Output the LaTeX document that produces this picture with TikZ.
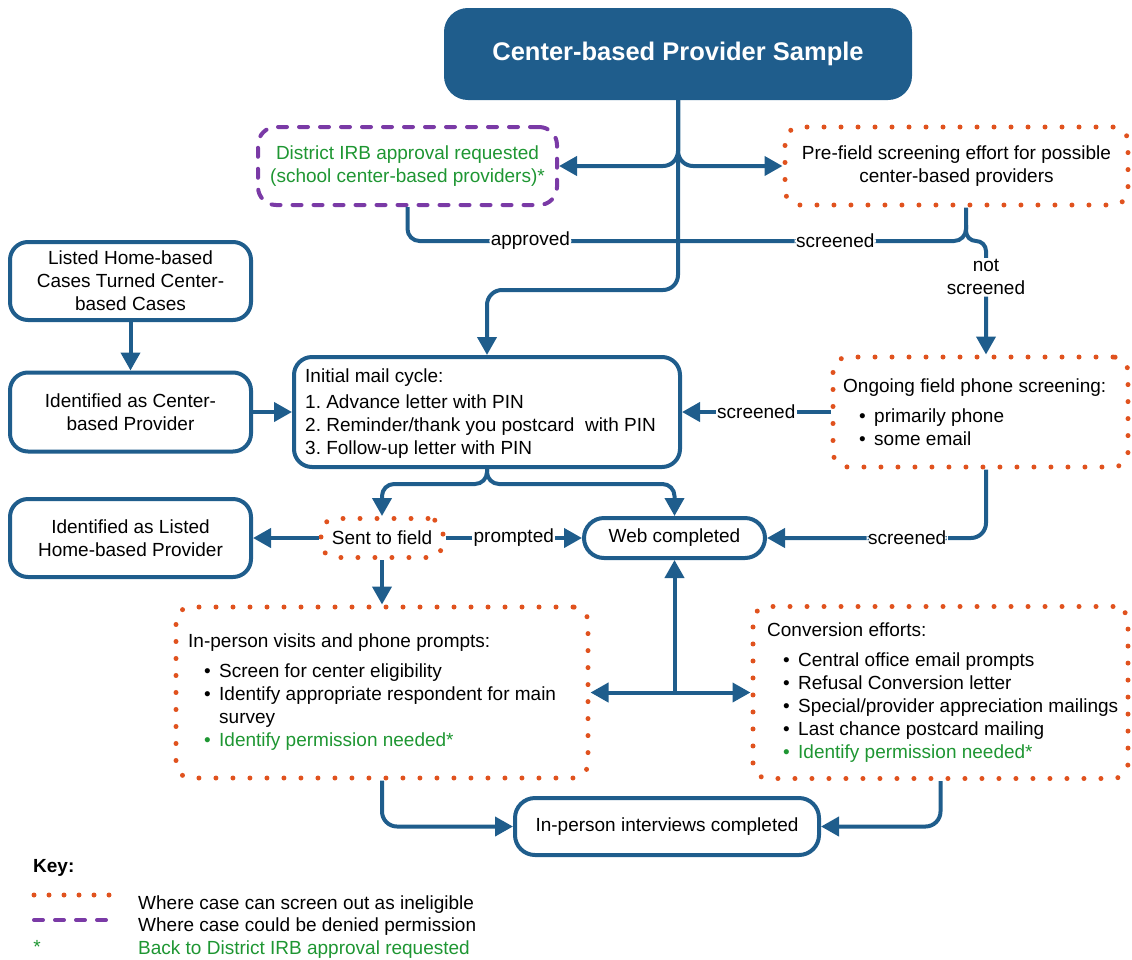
\documentclass[tikz,border=0pt]{standalone}
\usepackage{fontspec}
\setmainfont{Liberation Sans}
\usetikzlibrary{arrows.meta,calc}
\definecolor{bl}{RGB}{31,93,140}
\definecolor{orng}{RGB}{224,82,30}
\definecolor{purp}{RGB}{122,58,166}
\definecolor{grn}{RGB}{30,150,50}
\frenchspacing
\newcommand{\bul}[1]{\hspace*{16pt}\makebox[15pt][l]{\textbullet}#1}
\newcommand{\gbul}[1]{\hspace*{16pt}\makebox[15pt][l]{\color{grn}\textbullet}{\color{grn}#1}}
\begin{document}
\begin{tikzpicture}[x=1pt,y=-1pt,
  font=\fontsize{19}{23}\selectfont\frenchspacing,
  bbox/.style={draw=bl, line width=4pt, rounded corners=18pt, fill=white, align=center, inner sep=0pt},
  dotbox/.style={draw=orng, line width=5pt, dash pattern=on 0pt off 17pt, line cap=round, rounded corners=15pt, inner sep=0pt},
  dashbox/.style={draw=purp, line width=4pt, dash pattern=on 9pt off 12pt, line cap=round, rounded corners=18pt, inner sep=0pt},
  conn/.style={draw=bl, line width=4pt},
  arr/.style={conn, -{Triangle[length=18pt,width=19pt]}},
  lab/.style={fill=white, inner sep=1.5pt},
  txt/.style={anchor=west, align=left, inner sep=0pt},
]
\useasboundingbox (0,0) rectangle (1132,959);

% boxes
\node[bbox, fill=bl, text=white, font=\fontsize{25.5}{30}\selectfont\bfseries, minimum width=464pt, minimum height=88pt, rounded corners=22pt] (title) at (678,54) {Center-based Provider Sample};
\node[dashbox, minimum width=299pt, minimum height=78pt, text=grn, align=center] (irb) at (407.5,166) {District IRB approval requested\\(school center-based providers)*};
\node[dotbox, minimum width=343pt, minimum height=78pt, align=center] (pre) at (956.5,166) {Pre-field screening effort for possible\\center-based providers};
\node[bbox, minimum width=241pt, minimum height=78pt] (listed) at (130.5,281) {Listed Home-based\\Cases Turned Center-\\based Cases};
\node[bbox, minimum width=241pt, minimum height=79pt] (idc) at (130.5,412) {Identified as Center-\\based Provider};
\node[bbox, minimum width=386pt, minimum height=110pt] (mail) at (487,412) {};
\node[txt] (mailtxt) at ($(mail.west)+(13,2)$) {Initial mail cycle:\\[3pt]1. Advance letter with PIN\\2. Reminder/thank you postcard\ \ with PIN\\3. Follow-up letter with PIN};
\node[dotbox, minimum width=295pt, minimum height=110pt] (ong) at (980.5,412) {};
\node[txt] (ongtxt) at ($(ong.west)+(12.5,0)$) {Ongoing field phone screening:\\[7pt]\bul{primarily phone}\\\bul{some email}};
\node[bbox, minimum width=241pt, minimum height=78pt] (idl) at (130.5,538) {Identified as Listed\\Home-based Provider};
\node[dotbox, minimum width=122pt, minimum height=39pt] (sent) at (382,538) {Sent to field};
\node[bbox, minimum width=181pt, minimum height=40pt, rounded corners=20pt] (web) at (674.5,538) {Web completed};
\node[dotbox, minimum width=412pt, minimum height=171pt] (inp) at (382,692.5) {};
\node[txt] (inptxt) at ($(inp.west)+(14.5,0)$) {In-person visits and phone prompts:\\[7pt]\bul{Screen for center eligibility}\\\bul{Identify appropriate respondent for main}\\\hspace*{31pt}survey\\\gbul{Identify permission needed*}};
\node[dotbox, minimum width=375pt, minimum height=172pt] (conv) at (940.5,692.5) {};
\node[txt] (convtxt) at ($(conv.west)+(16.5,0)$) {Conversion efforts:\\[7pt]\bul{Central office email prompts}\\\bul{Refusal Conversion letter}\\\bul{Special/provider appreciation mailings}\\\bul{Last chance postcard mailing}\\\gbul{Identify permission needed*}};
\node[bbox, minimum width=304pt, minimum height=57pt, rounded corners=20pt] (ipc) at (667,826.5) {In-person interviews completed};

% coordinates
\coordinate (tj) at (678,290);
\coordinate (pj) at (966,241);
\coordinate (nsc) at (986,241);
\coordinate (mj) at (487,484);
\coordinate (wj) at (674.5,692.5);

% connectors
\draw[arr, rounded corners=15pt] (title.south) -- (tj) -| (mail.north);
\draw[arr, rounded corners=15pt] (title.south) |- (irb.east);
\draw[arr, rounded corners=15pt] (title.south) |- (pre.west);
\draw[conn, rounded corners=12pt] (irb.south) |- node[lab,pos=0.61]{approved} node[lab,pos=0.883]{screened} (pj) -- (pj |- pre.south);
\draw[arr, rounded corners=10pt] ($(pj)+(0,-16)$) |- (nsc) -- node[lab, pos=0.32, align=center]{not\\screened} (nsc |- ong.north);
\draw[arr] (ong.west) -- node[lab]{screened} (mail.east);
\draw[arr, rounded corners=15pt] (nsc |- ong.south) |- node[lab,pos=0.68]{screened} (web.east);
\draw[arr] (listed.south) -- (idc.north);
\draw[arr] (idc.east) -- (mail.west);
\draw[arr, rounded corners=12pt] (mail.south) |- (sent.north |- mj) -- (sent.north);
\draw[arr, rounded corners=12pt] (mail.south) |- (web.north |- mj) -- (web.north);
\draw[arr] (sent.west) -- (idl.east);
\draw[arr] (sent.east) -- node[lab]{prompted} (web.west);
\draw[arr] (sent.south) -- (inp.north);
\draw[arr] (wj) -- (web.south);
\draw[arr] (wj) -- (inp.east);
\draw[arr] (wj) -- (conv.west);
\draw[arr, rounded corners=15pt] (inp.south) |- (ipc.west);
\draw[arr, rounded corners=15pt] (conv.south) |- (ipc.east);

% key
\node[anchor=west, inner sep=0pt, font=\fontsize{19}{23}\selectfont\bfseries] (key) at (33,868) {Key:};
\draw[draw=orng, line width=5pt, dash pattern=on 0pt off 15pt, line cap=round] (34,895) -- (109,895);
\draw[draw=purp, line width=4pt, dash pattern=on 9pt off 12pt, line cap=round] (34,920) -- (109,920);
\node[text=grn, inner sep=0pt] (keystar) at (37,947) {*};
\node[anchor=west, inner sep=0pt] (k1) at (138,905) {Where case can screen out as ineligible};
\node[anchor=west, inner sep=0pt] (k2) at (138,927) {Where case could be denied permission};
\node[anchor=west, inner sep=0pt, text=grn] (k3) at (138,950) {Back to District IRB approval requested};
\end{tikzpicture}
\end{document}
